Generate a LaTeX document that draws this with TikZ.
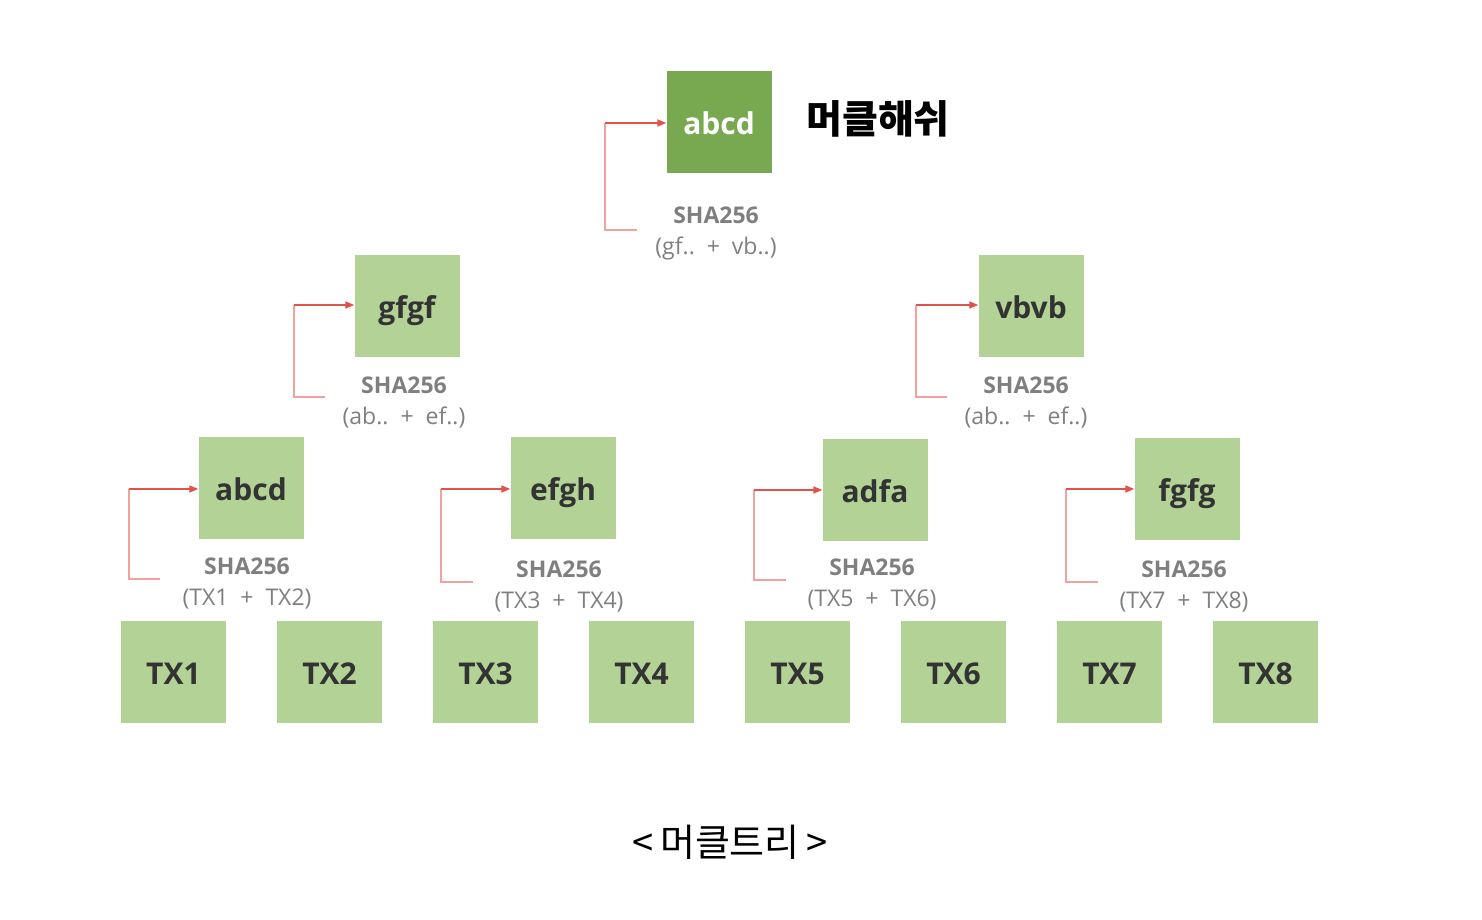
\documentclass[tikz,border=0pt]{standalone}
\usepackage{fontspec}
\setmainfont{Open Sans}
\newfontfamily\kr{Noto Sans CJK KR}
\definecolor{dkgreen}{HTML}{78A951}
\definecolor{ltgreen}{HTML}{B3D296}
\definecolor{boxtext}{HTML}{333333}
\definecolor{lbl}{HTML}{7F7F7F}
\definecolor{connred}{HTML}{E0524A}
\definecolor{connlight}{HTML}{F0A29D}
\usetikzlibrary{arrows.meta}
\tikzset{
  hbox/.style={minimum width=105pt, minimum height=102pt, inner sep=0pt, fill=ltgreen,
    text=boxtext, text height=25pt, text depth=0pt, font=\bfseries\fontsize{30}{36}\selectfont},
  rootbox/.style={hbox, fill=dkgreen, text=white},
  shalbl/.style={align=center, text=lbl, inner sep=0pt, font=\fontsize{23}{31}\selectfont},
  connlow/.style={draw=connlight, line width=1.8pt},
  connup/.style={draw=connred, line width=1.8pt, -{Triangle[length=9pt,width=7pt]}},
}
\newcommand{\shatxt}[1]{\textbf{SHA256}\\#1}
\begin{document}
\begin{tikzpicture}[x=1pt,y=-1pt]
\useasboundingbox (0,0) rectangle (1482,920);
% root
\node[rootbox] (root) at (719,122) {abcd};
\node[shalbl] (lroot) at (716,233) {\shatxt{(gf..\ \ +\ \ vb..)}};
\node[font=\kr\bfseries\fontsize{39}{42}\selectfont, inner sep=0pt] (title) at (878,119) {머클해쉬};
% level 2
\node[hbox] (g) at (407,306) {gfgf};
\node[shalbl] (lg) at (404,402) {\shatxt{(ab..\ \ +\ \ ef..)}};
\node[hbox] (v) at (1031,306) {vbvb};
\node[shalbl] (lv) at (1026,402) {\shatxt{(ab..\ \ +\ \ ef..)}};
% level 1
\node[hbox] (a1) at (251,488) {abcd};
\node[shalbl] (la1) at (247,583) {\shatxt{(TX1\ \ +\ \ TX2)}};
\node[hbox] (a2) at (563,488) {efgh};
\node[shalbl] (la2) at (559,586) {\shatxt{(TX3\ \ +\ \ TX4)}};
\node[hbox] (a3) at (875,490) {adfa};
\node[shalbl] (la3) at (872,584) {\shatxt{(TX5\ \ +\ \ TX6)}};
\node[hbox] (a4) at (1187,489) {fgfg};
\node[shalbl] (la4) at (1184,586) {\shatxt{(TX7\ \ +\ \ TX8)}};
% leaves
\foreach \i in {1,...,8} {
  \node[hbox] (tx\i) at ({173.5+156*(\i-1)},672) {TX\i};
}
% connectors
\coordinate (s0) at (637,230); \coordinate (k0) at (605,123);
\coordinate (s1) at (325,397); \coordinate (k1) at (294,305);
\coordinate (s2) at (947,397); \coordinate (k2) at (916,305);
\coordinate (s3) at (160,579); \coordinate (k3) at (129,489);
\coordinate (s4) at (473,582); \coordinate (k4) at (441,489);
\coordinate (s5) at (786,580); \coordinate (k5) at (754,490);
\coordinate (s6) at (1098,582); \coordinate (k6) at (1066,489);
\foreach \s/\k/\n in {s0/k0/root, s1/k1/g, s2/k2/v, s3/k3/a1, s4/k4/a2, s5/k5/a3, s6/k6/a4} {
  \draw[connlow] (\s) -| (\k);
  \draw[connup] (\k) -- (\n.west |- \k);
}
\node[font=\kr\fontsize{38}{42}\selectfont, inner sep=0pt] (cap) at (730,842) {<\,머클트리\,>};
\end{tikzpicture}
\end{document}
